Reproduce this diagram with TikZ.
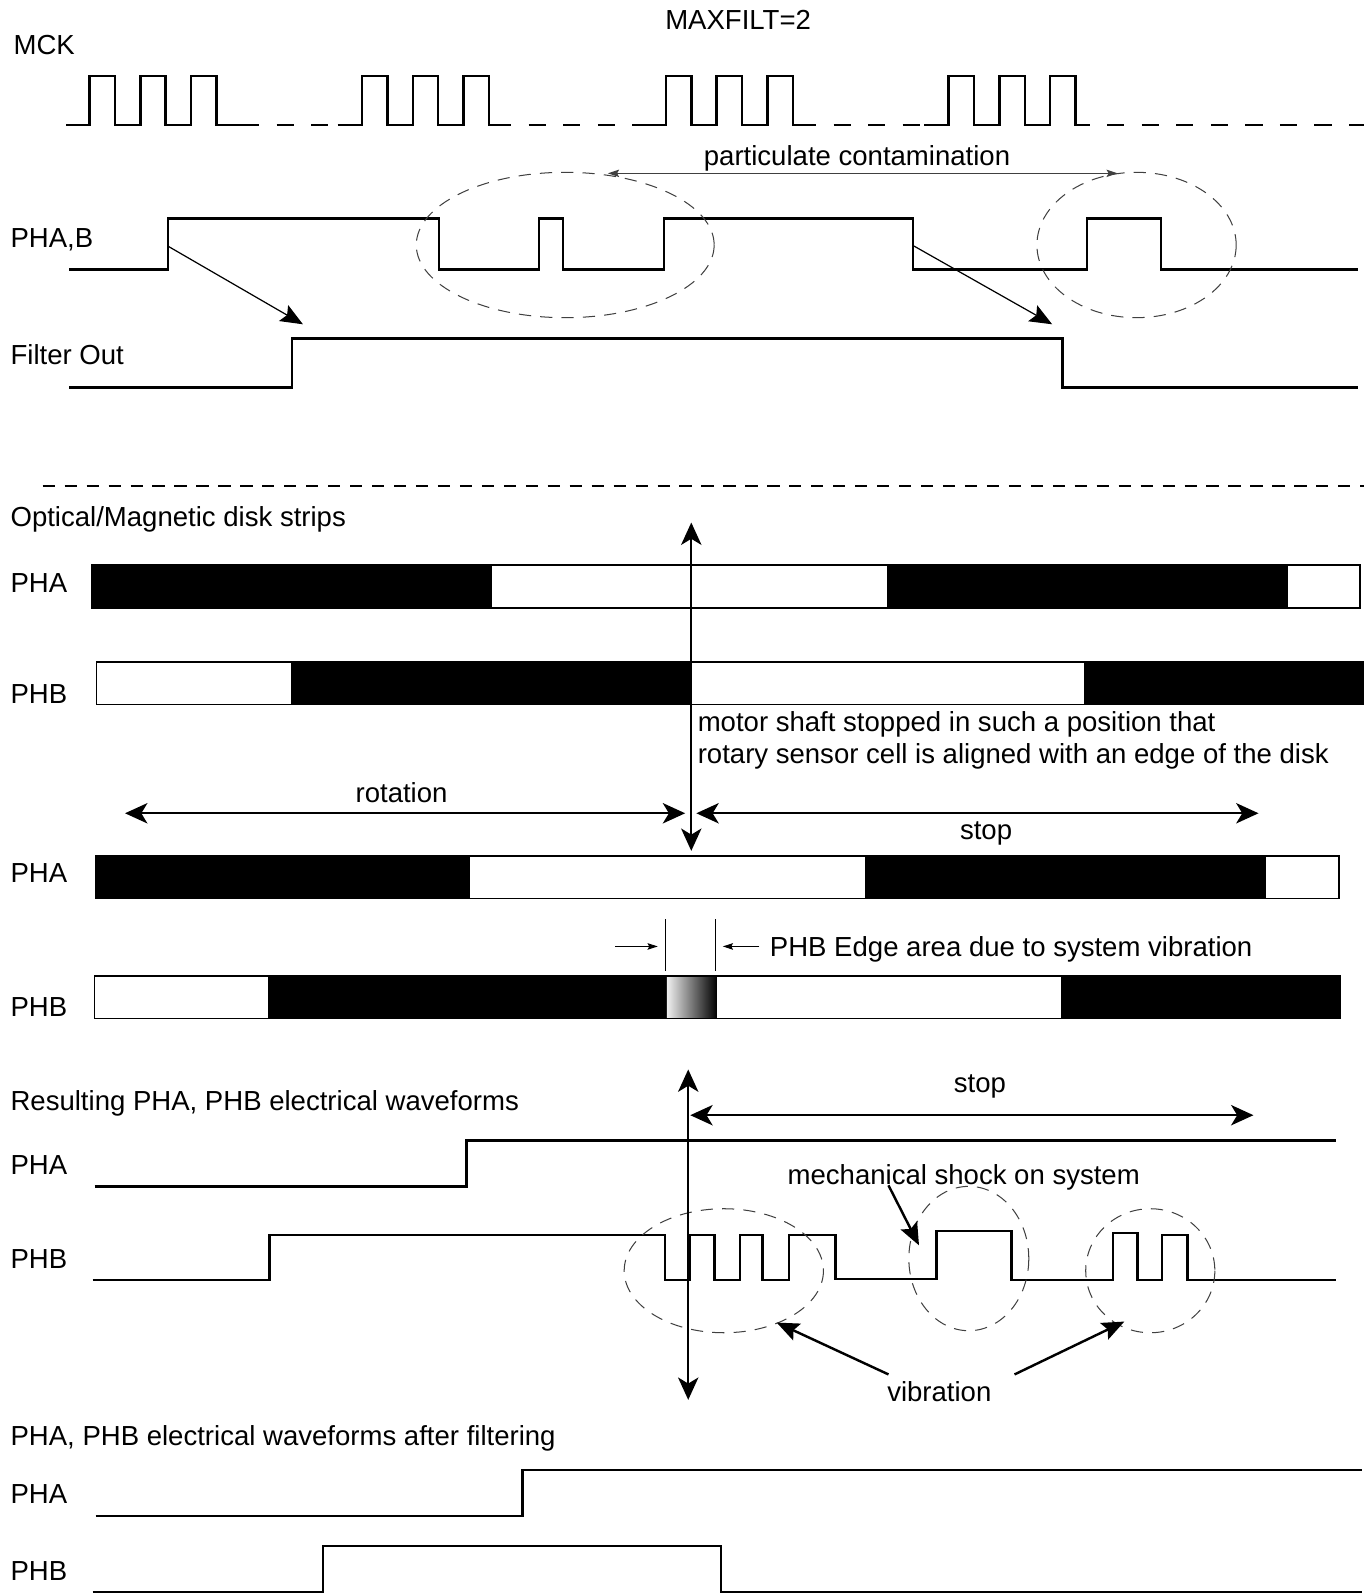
\documentclass[tikz,border=0pt]{standalone}
\usepackage{fontspec}
\setmainfont{Liberation Sans}
\usetikzlibrary{arrows.meta}
\begin{document}
\begin{tikzpicture}[x=0.5pt,y=-0.5pt,
  every node/.style={font=\fontsize{13.55}{16}\selectfont, inner sep=0pt},
  lbl/.style={anchor=base west},
  ctext/.style={anchor=base},
  wave/.style={line width=1.2pt, line join=miter},
  clkdash/.style={line width=1.2pt, dash pattern=on 8.5pt off 8.5pt, dash phase=8.5pt},
  sepdash/.style={line width=0.9pt, dash pattern=on 6pt off 4.8pt},
  ell/.style={draw=black!75, line width=0.5pt, dash pattern=on 6pt off 4.5pt},
  strip/.style={draw=black, line width=0.8pt},
  bigarrow/.style={line width=1.1pt, {Stealth[length=11pt,width=10pt,inset=3pt]}-{Stealth[length=11pt,width=10pt,inset=3pt]}},
  diag/.style={line width=0.6pt, -{Stealth[length=11pt,width=9pt,inset=2pt]}},
  thinboth/.style={line width=0.6pt, draw=black!75, {Stealth[length=5.5pt,width=3.6pt,inset=1pt]}-{Stealth[length=5.5pt,width=3.6pt,inset=1pt]}},
  small/.style={line width=0.5pt, -{Stealth[length=5pt,width=3.2pt,inset=0.8pt]}},
  fatarrow/.style={line width=1.2pt, -{Stealth[length=11pt,width=9pt,inset=2pt]}},
]
\useasboundingbox (0,0) rectangle (1342,1568);
\fill[white] (0,0) rectangle (1342,1568);

% ---------------- top section ----------------
\node[lbl] (maxfilt) at (654,29) {MAXFILT=2};
\node[lbl] (mck) at (13,54) {MCK};

% MCK clock groups
\foreach \r/\a/\e in {88/65/255, 356/332/503, 655/630/803, 933/909/1072}{
  \draw[wave] (\a,123) -- (\r,123) |- ({\r+25},75) |- ({\r+50},123) |- ({\r+75},75)
     |- ({\r+100},123) |- ({\r+125},75) |- (\e,123);
}
\draw[clkdash] (255,123) -- (332,123);
\draw[clkdash] (503,123) -- (630,123);
\draw[clkdash] (803,123) -- (909,123);
\draw[clkdash] (1072,123) -- (1342,123);

% particulate contamination
\node[lbl] (partic) at (692,163) {particulate contamination};
\coordinate (pcl) at (598,170.5);
\coordinate (pcr) at (1099.5,170.5);
\draw[thinboth] (pcl) -- (pcr);

% PHA,B
\node[lbl] (phab) at (10,243) {PHA,B};
\draw[wave] (68,265) -- (165,265) |- (432,215) |- (530,265) |- (554,215) |- (653,265)
  |- (898,215) |- (1069,265) |- (1142,215) |- (1336,265);
\draw[ell] (556,241) ellipse [x radius=146.5, y radius=71.5];
\draw[ell] (1118,241) ellipse [x radius=98, y radius=71.5];

% Filter out
\node[lbl] (filt) at (10,359) {Filter Out};
\draw[wave] (68,381) -- (287,381) |- (1045,333) |- (1336,381);

\coordinate (ab1) at (165,242);
\coordinate (fo1) at (298,319);
\coordinate (ab2) at (899,242);
\coordinate (fo2) at (1035,319);
\draw[diag] (ab1) -- (fo1);
\draw[diag] (ab2) -- (fo2);

% separator
\draw[sepdash] (42,478) -- (1342,478);

% ---------------- disk strips ----------------
\node[lbl] (optical) at (10,518) {Optical/Magnetic disk strips};

\node[lbl] (pha1) at (10,583) {PHA};
\fill (90,556) rectangle (484,598);
\fill (873,556) rectangle (1267,598);
\draw[strip] (90,556) rectangle (1338,598);

\node[lbl] (phb1) at (10,692) {PHB};
\fill (286,651) rectangle (680,693);
\fill (1066,651) rectangle (1342,693);
\draw[strip] (95,651) rectangle (1341,693);

\node[lbl] (motor1) at (686,720) {motor shaft stopped in such a position that};
\node[lbl] (motor2) at (686,751) {rotary sensor cell is aligned with an edge of the disk};

\node[ctext] (rot) at (395,789) {rotation};
\coordinate (rotl) at (123,800);
\coordinate (rotr) at (674,800);
\draw[bigarrow] (rotl) -- (rotr);
\coordinate (stl) at (685,800);
\coordinate (str) at (1238,800);
\draw[bigarrow] (stl) -- (str);
\node[ctext] (stop1) at (970,826) {stop};

\node[lbl] (pha2) at (10,868) {PHA};
\fill (94,842) rectangle (462,884);
\fill (851,842) rectangle (1245,884);
\draw[strip] (94,842) rectangle (1317,884);

\coordinate (va1t) at (680,514);
\coordinate (va1b) at (680,837);
\draw[bigarrow] (va1t) -- (va1b);

% edge area
\coordinate (eL) at (655,904);
\coordinate (eLb) at (655,955);
\coordinate (eR) at (704,904);
\coordinate (eRb) at (704,955);
\draw[line width=0.5pt] (eL) -- (eLb);
\draw[line width=0.5pt] (eR) -- (eRb);
\coordinate (ea1) at (605,931);
\coordinate (ea1t) at (647,931);
\coordinate (ea2) at (747,931);
\coordinate (ea2t) at (711,931);
\draw[small] (ea1) -- (ea1t);
\draw[small] (ea2) -- (ea2t);
\node[lbl] (edge) at (757,941) {PHB Edge area due to system vibration};

\node[lbl] (phb2) at (10,1000) {PHB};
\fill (264,960) rectangle (656,1002);
\shade[left color=black!6, right color=black] (656,960) rectangle (705,1002);
\fill (1044,960) rectangle (1318,1002);
\draw[strip] (93,960) rectangle (1318,1002);

% ---------------- resulting waveforms ----------------
\node[lbl] (result) at (10,1092) {Resulting PHA, PHB electrical waveforms};
\node[ctext] (stop2) at (964,1075) {stop};
\coordinate (s2l) at (679,1097);
\coordinate (s2r) at (1233,1097);
\draw[bigarrow] (s2l) -- (s2r);

\node[lbl] (pha3) at (10,1155) {PHA};
\draw[wave] (93,1167) -- (459,1167) |- (1314,1122);

\node[ctext] (shock) at (948,1165) {mechanical shock on system};

\node[lbl] (phb3) at (10,1248) {PHB};
\draw[wave] (91,1259) -- (265,1259) |- (654,1215) |- (679,1259) |- (703,1215) |- (728,1259)
  |- (750,1215) |- (776,1259) |- (822,1215) |- (921,1258) |- (995,1211) |- (1095,1259)
  |- (1119,1213) |- (1143,1259) |- (1168,1215) |- (1314,1259);

\draw[ell] (712,1250) ellipse [x radius=98, y radius=61];
\draw[ell] (953,1238) ellipse [x radius=59, y radius=71];
\draw[ell] (1131.5,1250) ellipse [x radius=63.5, y radius=61];

\coordinate (va2t) at (677,1052);
\coordinate (va2b) at (677,1377);
\draw[bigarrow] (va2t) -- (va2b);

\coordinate (shs) at (874,1166);
\coordinate (sht) at (904,1225);
\draw[fatarrow] (shs) -- (sht);

\node[ctext] (vib) at (924,1379) {vibration};
\coordinate (v1s) at (874,1352);
\coordinate (v1t) at (764,1301);
\coordinate (v2s) at (998,1352);
\coordinate (v2t) at (1106,1300);
\draw[fatarrow] (v1s) -- (v1t);
\draw[fatarrow] (v2s) -- (v2t);

% ---------------- after filtering ----------------
\node[lbl] (after) at (10,1422) {PHA, PHB electrical waveforms after filtering};
\node[lbl] (pha4) at (10,1479) {PHA};
\draw[wave] (94,1491) -- (514,1491) |- (1340,1446);
\node[lbl] (phb4) at (10,1555) {PHB};
\draw[wave] (91,1566) -- (318,1566) |- (709,1521) |- (1340,1566);
\end{tikzpicture}
\end{document}
